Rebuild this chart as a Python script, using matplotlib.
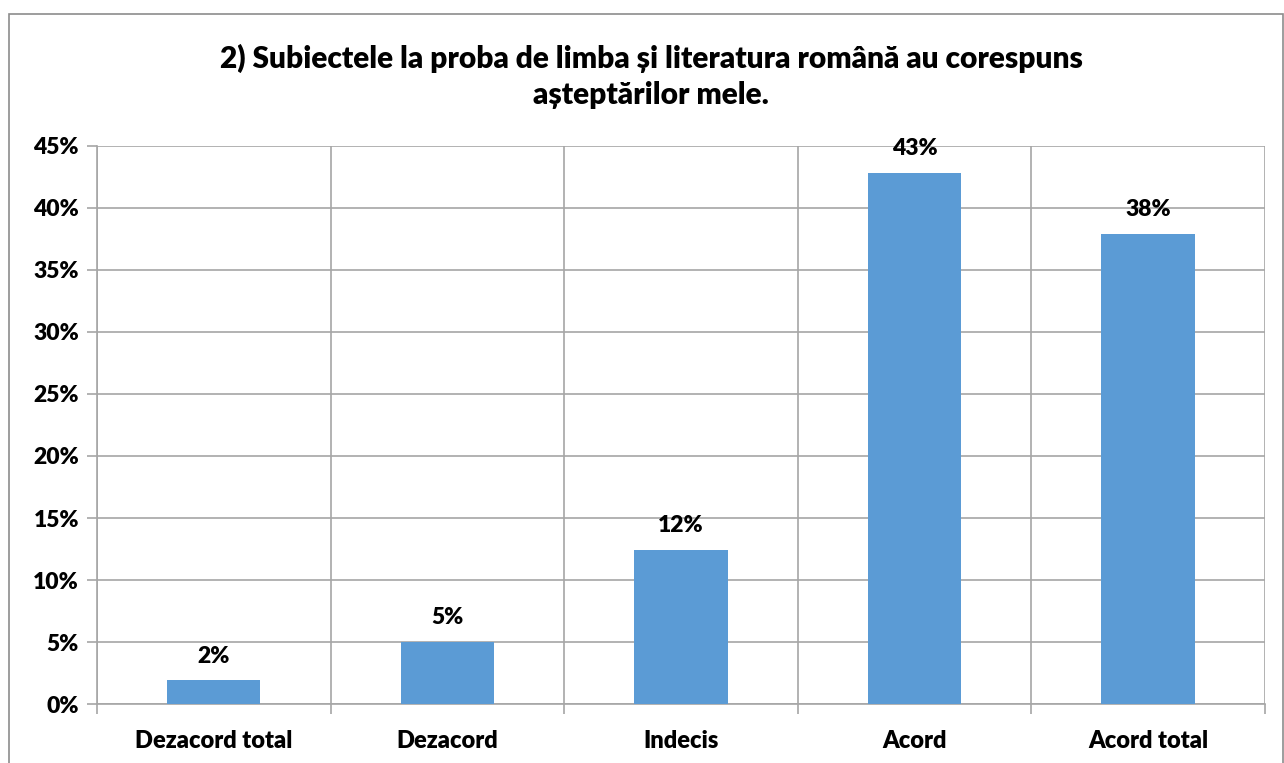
import numpy as np
import matplotlib.pyplot as plt
from matplotlib.patches import Rectangle
from matplotlib.ticker import MultipleLocator, FuncFormatter

plt.rcParams['font.family'] = ['Lato', 'DejaVu Sans']
plt.rcParams['font.weight'] = 'heavy'

# Data
categories = ["Dezacord total", "Dezacord", "Indecis", "Acord", "Acord total"]
values = [1.9, 5.0, 12.4, 42.8, 37.9]
labels = ["2%", "5%", "12%", "43%", "38%"]
title = ("2) Subiectele la proba de limba și literatura română au corespuns\n"
         "așteptărilor mele.")

BAR_COLOR = "#5B9BD5"
GRID_COLOR = "#A6A6A6"

fig = plt.figure(figsize=(12.84, 7.63), dpi=100)
ax = fig.add_axes([0.0755, 0.0773, 0.9097, 0.7314])

x = np.arange(len(categories))
ax.bar(x, values, width=0.4, color=BAR_COLOR, zorder=3)

ax.set_xlim(-0.5, len(categories) - 0.5)
ax.set_ylim(0, 45)
ax.yaxis.set_major_locator(MultipleLocator(5))
ax.yaxis.set_major_formatter(FuncFormatter(lambda v, _: f"{v:.0f}%"))

# vertical grid at category boundaries, names on minor ticks
ax.set_xticks(np.arange(-0.5, len(categories)), minor=False)
ax.set_xticklabels([])
ax.set_xticks(x, minor=True)
ax.set_xticklabels(categories, minor=True)
ax.tick_params(axis='x', which='minor', length=0, pad=19, labelsize=17)
ax.tick_params(axis='x', which='major', length=7, color=GRID_COLOR, width=1.2)
ax.tick_params(axis='y', length=7, color=GRID_COLOR, width=1.2, labelsize=16.5, pad=6)
ax.grid(True, which='major', color=GRID_COLOR, linewidth=1.2, zorder=0)

for s in ['top', 'right']:
    ax.spines[s].set_visible(False)
for s in ['left', 'bottom']:
    ax.spines[s].set_color(GRID_COLOR)
    ax.spines[s].set_linewidth(1.2)

for xi, v, lab in zip(x, values, labels):
    ax.annotate(lab, (xi, v), xytext=(0, 10), textcoords='offset points',
                ha='center', va='bottom', fontsize=16.5, fontweight='heavy')

fig.text(0.507, 0.9, title, ha='center', va='center', fontsize=21.5,
         fontweight='heavy', linespacing=1.35)

# outer chart border
fig.patches.append(Rectangle((9 / 1284, -0.1), 1274 / 1284, 1.1 - 14 / 763,
                             transform=fig.transFigure, fill=False,
                             edgecolor='#8C8C8C', linewidth=1.2))

fig.savefig("out.png", dpi=100)
